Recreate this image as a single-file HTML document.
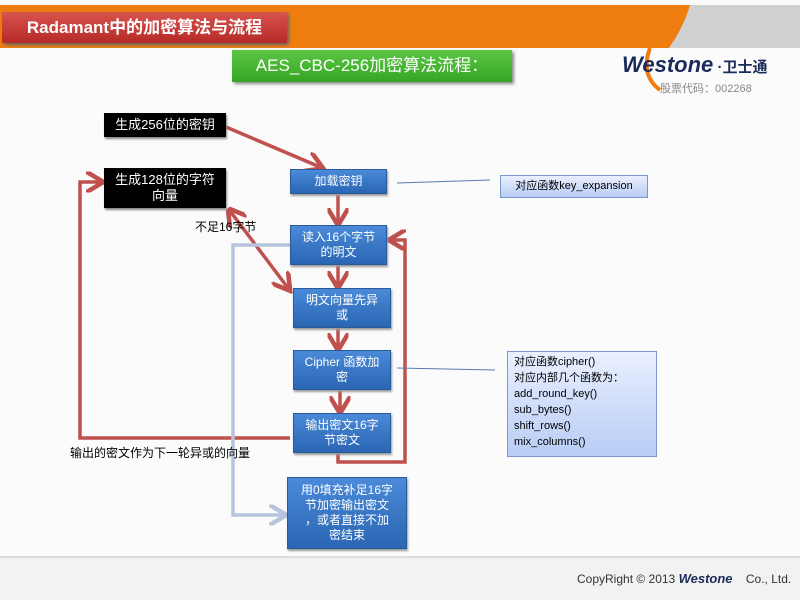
<!DOCTYPE html>
<html><head><meta charset="utf-8"><style>
body{margin:0;width:800px;height:600px;overflow:hidden;background:#fafafa;position:relative;font-family:"Liberation Sans","Noto Sans CJK SC",sans-serif}
.a{position:absolute;box-sizing:border-box;display:flex;align-items:center;justify-content:center;text-align:center;line-height:1.25}
.blk{background:#000;color:#fff;font-size:13px;box-shadow:1px 2px 2px #888}
.blu{background:linear-gradient(#4a8ad8,#2a66b4);color:#fff;font-size:12px;border:1px solid #2a5a9a;box-shadow:1px 2px 2px #999}
</style></head><body>
<div style="position:absolute;left:0;top:5px;width:800px;height:43px;background:#ef7d10"></div>
<svg style="position:absolute;left:0;top:0" width="800" height="600">
<path d="M690,5 L800,5 L800,70 L650,70 Q680,40 690,5Z" fill="#d0d0d0"/>
<rect x="0" y="48" width="800" height="509" fill="#fbfbfb"/>
<path d="M650,48 Q640,75 660,90" stroke="#ef7d10" stroke-width="4" fill="none"/>
<rect x="0" y="557" width="800" height="43" fill="#f2f2f2"/>
<line x1="0" y1="557" x2="800" y2="557" stroke="#ddd" stroke-width="2"/>
<defs>
<marker id="r" markerWidth="6" markerHeight="6" refX="4" refY="3" orient="auto"><path d="M0,0 L5,3 L0,6" fill="none" stroke="#c0504d" stroke-width="1.3"/></marker>
<marker id="rs" markerWidth="6" markerHeight="6" refX="1" refY="3" orient="auto"><path d="M5,0 L0,3 L5,6" fill="none" stroke="#c0504d" stroke-width="1.3"/></marker>
<marker id="g" markerWidth="6" markerHeight="6" refX="4" refY="3" orient="auto"><path d="M0,0 L5,3 L0,6" fill="none" stroke="#b8c4dc" stroke-width="1.3"/></marker>
</defs>
<g stroke="#c0504d" stroke-width="3.5" fill="none">
<line x1="226" y1="127" x2="320" y2="167" marker-end="url(#r)"/>
<line x1="338" y1="195" x2="338" y2="222" marker-end="url(#r)"/>
<line x1="338" y1="265" x2="338" y2="285" marker-end="url(#r)"/>
<line x1="338" y1="328" x2="338" y2="347" marker-end="url(#r)"/>
<line x1="340" y1="391" x2="340" y2="410" marker-end="url(#r)"/>
<polyline points="338,453 338,462 405,462 405,240 392,240" marker-end="url(#r)"/>
<polyline points="290,438 80,438 80,182 100,182" marker-end="url(#r)"/>
<line x1="230" y1="211" x2="288" y2="288" marker-start="url(#rs)" marker-end="url(#r)"/>
</g>
<polyline points="290,245 233,245 233,515 283,515" stroke="#b8c4dc" stroke-width="3.5" fill="none" marker-end="url(#g)"/>
<line x1="397" y1="183" x2="490" y2="180" stroke="#5a7ab0" stroke-width="1"/>
<line x1="397" y1="368" x2="495" y2="370" stroke="#5a7ab0" stroke-width="1"/>
</svg>
<div class="a" style="left:2px;top:12px;width:285px;height:31px;background:linear-gradient(#d9534f,#b52a26);color:#fff;font-size:17px;font-weight:bold;box-shadow:2px 2px 3px #666">Radamant中的加密算法与流程</div>
<div class="a" style="left:232px;top:50px;width:280px;height:32px;background:linear-gradient(#5cc645,#35a523);color:#fff;font-size:17px;box-shadow:2px 2px 3px #888">AES_CBC-256加密算法流程：</div>
<div style="position:absolute;left:622px;top:52px;font-size:22px;font-weight:bold;font-style:italic;color:#1a2a5a">Westone<span style="font-size:15px;font-style:normal"> ·卫士通</span></div>
<div style="position:absolute;left:660px;top:80px;font-size:11px;color:#888">股票代码：002268</div>
<div class="a blk" style="left:104px;top:113px;width:122px;height:24px">生成256位的密钥</div>
<div class="a blk" style="left:104px;top:168px;width:122px;height:40px">生成128位的字符<br>向量</div>
<div class="a blu" style="left:290px;top:169px;width:97px;height:25px">加载密钥</div>
<div class="a blu" style="left:290px;top:225px;width:97px;height:40px">读入16个字节<br>的明文</div>
<div class="a blu" style="left:293px;top:288px;width:98px;height:40px">明文向量先异<br>或</div>
<div class="a blu" style="left:293px;top:350px;width:98px;height:40px">Cipher 函数加<br>密</div>
<div class="a blu" style="left:293px;top:413px;width:98px;height:40px">输出密文16字<br>节密文</div>
<div class="a blu" style="left:287px;top:477px;width:120px;height:72px">用0填充补足16字<br>节加密输出密文<br>，或者直接不加<br>密结束</div>
<div class="a" style="left:500px;top:175px;width:148px;height:23px;background:linear-gradient(#eaf0ff,#b8ccf4);border:1px solid #7a98cc;font-size:11px">对应函数key_expansion</div>
<div style="position:absolute;left:507px;top:351px;width:150px;height:106px;box-sizing:border-box;background:linear-gradient(#eaf0ff,#b8ccf4);border:1px solid #7a98cc;font-size:11px;line-height:16px;padding:2px 6px">对应函数cipher()<br>对应内部几个函数为：<br>add_round_key()<br>sub_bytes()<br>shift_rows()<br>mix_columns()</div>
<div style="position:absolute;left:195px;top:218px;font-size:12px">不足16字节</div>
<div style="position:absolute;left:70px;top:444px;font-size:12px">输出的密文作为下一轮异或的向量</div>
<div style="position:absolute;left:577px;top:571px;font-size:12px;color:#333">CopyRight © 2013 <b style="font-style:italic;color:#1a2a5a;font-size:13px">Westone</b>&nbsp;&nbsp;&nbsp; Co., Ltd.</div>
</body></html>
